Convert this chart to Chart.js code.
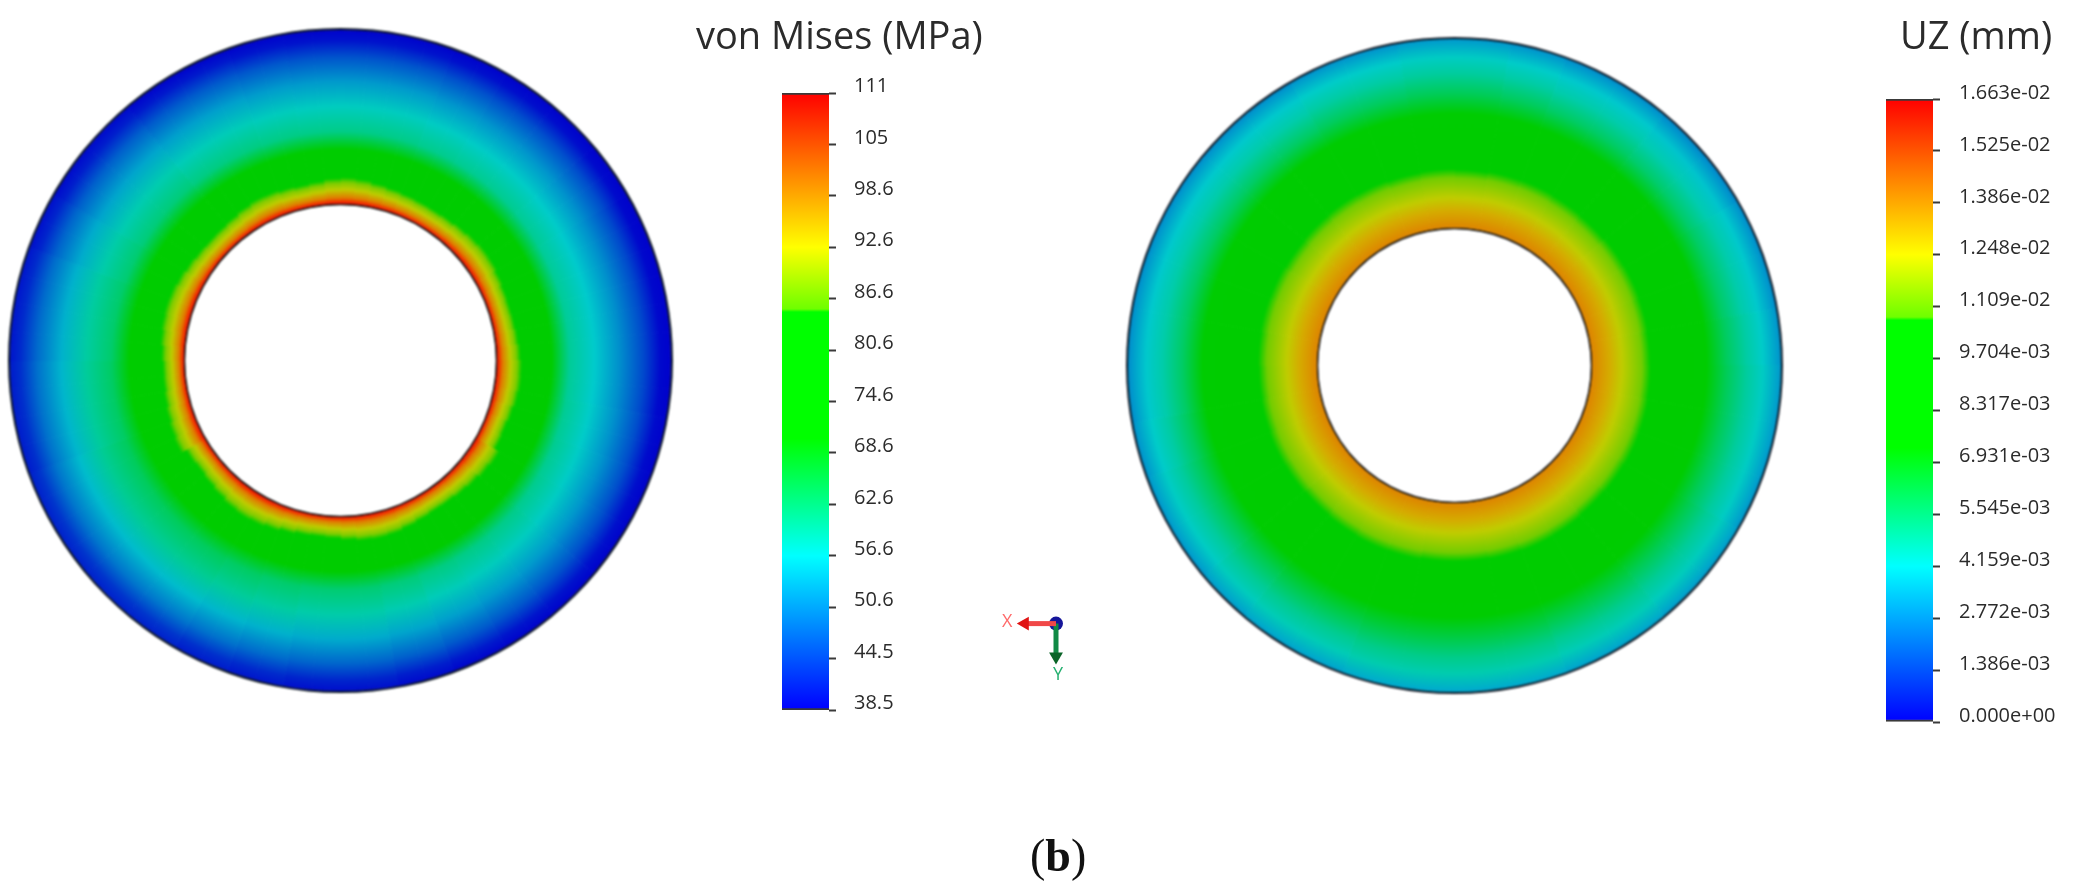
<!DOCTYPE html>
<html>
<head>
<meta charset="utf-8">
<title>von Mises / UZ</title>
<script src="https://cdn.jsdelivr.net/npm/chart.js@4"></script>
<style>
  html, body { margin: 0; background: #fff; width: 2083px; height: 891px; overflow: hidden; }
  canvas { position: absolute; }
  .disc { filter: blur(0.9px); }
  .bar { filter: blur(0.5px); }
  .txt { position: absolute; white-space: nowrap; color: #2b2b2b; font-family: "Open Sans", sans-serif; }
  .titulo { font-size: 38px; line-height: 40px; filter: blur(0.4px); }
</style>
</head>
<body>
<canvas id="discoVM" class="disc" style="left:8px;top:28px"></canvas>
<canvas id="barraVM" class="bar" style="left:782px;top:63px"></canvas>
<canvas id="discoUZ" class="disc" style="left:1126px;top:37px"></canvas>
<canvas id="barraUZ" class="bar" style="left:1886px;top:68px"></canvas>
<canvas id="triada" style="left:1000px;top:602px"></canvas>

<div class="txt titulo" style="left:696px;top:14px">von Mises (MPa)</div>
<div class="txt titulo" style="left:1900px;top:14px">UZ (mm)</div>
<div class="txt" style="left:1002px;top:608px;font-size:18px;line-height:24px;color:#ff6a6a">X</div>
<div class="txt" style="left:1053px;top:661px;font-size:18px;line-height:24px;color:#25b070">Y</div>
<div class="txt" style="left:1030px;top:826px;font-size:46px;line-height:60px;color:#111;font-family:'Liberation Serif',serif">(<b>b</b>)</div>

<script>
// colour legend: position along the bar (0 bottom, 1 top) and its colour
const mapaPos = [0, 0.25, 0.44, 0.645, 0.65, 0.75, 1];
const mapaColor = [[0, 0, 255], [0, 255, 255], [0, 255, 0], [0, 255, 0], [110, 255, 0], [255, 255, 0], [255, 0, 0]];

// left plot: von Mises
const vmEtiquetas = ["111", "105", "98.6", "92.6", "86.6", "80.6", "74.6", "68.6", "62.6", "56.6", "50.6", "44.5", "38.5"];
const vmMin = 38.5;
const vmMax = 111;
// stations across the ring, as a share of the outer radius, and the stress read there
const vmEstacion = [0.467, 0.476, 0.490, 0.515, 0.535, 0.551, 0.636, 0.690, 0.765, 0.840, 0.913, 0.964, 1];
const vmValor = [111, 108.5, 101, 92, 88, 84.5, 70.4, 61.7, 58, 52.7, 46.5, 40.7, 38.5];
const vmZonaCaliente = 5; // last station of the hot band
// outer edge of the hot band every 5 degrees, clockwise from the top
const vmBorde = [0.552, 0.549, 0.544, 0.540, 0.537, 0.535, 0.534, 0.536, 0.540, 0.544, 0.547, 0.546,
  0.541, 0.537, 0.535, 0.536, 0.539, 0.543, 0.547, 0.548, 0.545, 0.540, 0.536, 0.538,
  0.553, 0.549, 0.543, 0.539, 0.535, 0.534, 0.537, 0.541, 0.546, 0.548, 0.546, 0.541,
  0.536, 0.534, 0.536, 0.541, 0.547, 0.552, 0.554, 0.551, 0.545, 0.540, 0.536, 0.539,
  0.555, 0.551, 0.546, 0.541, 0.537, 0.536, 0.540, 0.545, 0.549, 0.551, 0.550, 0.546,
  0.541, 0.537, 0.535, 0.536, 0.539, 0.544, 0.548, 0.547, 0.543, 0.540, 0.543, 0.549];
// drift of the outer band every 10 degrees (MPa)
const vmDeriva = [-0.5, -0.5, -0.8, -1, -1, -1.2, -1.5, -1.5, -1.5, -1.5, -1.2, -1,
  -0.8, -0.5, -0.3, 0, 0.5, 1, 1, 1.5, 2, 2.5, 2.5, 2.5,
  2.5, 2, 2, 1.5, 1.5, 1, 0.5, 0.5, 0, 0, -0.3, -0.5];

// right plot: UZ
const uzEtiquetas = ["1.663e-02", "1.525e-02", "1.386e-02", "1.248e-02", "1.109e-02", "9.704e-03", "8.317e-03", "6.931e-03", "5.545e-03", "4.159e-03", "2.772e-03", "1.386e-03", "0.000e+00"];
const uzMin = 0;
const uzMax = 0.01663;
const uzEstacion = [0.415, 0.4725, 0.512, 0.573, 0.600, 0.768, 0.829, 0.890, 0.939, 0.990, 1];
const uzValor = [0.01424, 0.0133, 0.0123, 0.0112, 0.0107, 0.0073, 0.00577, 0.00469, 0.00410, 0.0030, 0.0026];
const uzZonaCaliente = 4;
const uzBorde = [0.597, 0.600, 0.601, 0.599, 0.597, 0.600, 0.601, 0.599, 0.597, 0.598, 0.600, 0.601,
  0.599, 0.597, 0.600, 0.601, 0.599, 0.597, 0.597, 0.600, 0.601, 0.599, 0.597, 0.600,
  0.601, 0.599, 0.597, 0.599, 0.601, 0.600, 0.597, 0.599, 0.601, 0.600, 0.597, 0.599];
const uzDeriva = [0.0002, 0.0001, 0, 0, -0.0001, -0.0001, 0, 0, 0.0001, 0.0002, 0.0002, 0.0002,
  0.0003, 0.0003, 0.0004, 0.0004, 0.0005, 0.0005, 0.0005, 0.0005, 0.0004, 0.0004, 0.0003, 0.0002,
  0.0002, 0.0001, 0, 0, 0, 0, 0, 0, 0, 0.0001, 0.0001, 0.0002];

// axis triad, in px around the origin
const triadaXx = [0, -39];
const triadaXy = [0, 0];
const triadaYx = [0, 0];
const triadaYy = [0, -41];

function colorMapa(t) {
  t = Math.min(1, Math.max(0, t));
  let i = 0;
  while (i < mapaPos.length - 2 && t > mapaPos[i + 1]) i++;
  const f = (t - mapaPos[i]) / (mapaPos[i + 1] - mapaPos[i]);
  return mapaColor[i].map((c, k) => c + (mapaColor[i + 1][k] - c) * f);
}

// the model is lit, so it is a bit darker than the legend
function colorModelo(t) {
  const luz = t < 0.75 ? 0.8 : 0.8 + (t - 0.75) * 0.7;
  const c = colorMapa(t).map(v => Math.round(v * luz));
  return `rgb(${c[0]}, ${c[1]}, ${c[2]})`;
}

function dibujarDisco(id, radio, radioInt, d) {
  const canvas = document.getElementById(id);
  canvas.width = canvas.height = radio * 2 + 1;
  const corte = radioInt / radio;
  const sectores = d.borde.map(() => 1);

  const relleno = ctx => {
    const area = ctx.chart.chartArea;
    if (!area) return "#00cc00";
    const cx = (area.left + area.right) / 2;
    const cy = (area.top + area.bottom) / 2;
    const g = ctx.chart.ctx.createRadialGradient(cx, cy, radioInt, cx, cy, radio);
    const base = d.estacion[d.caliente];
    const deriva = d.deriva[Math.floor(ctx.dataIndex * d.deriva.length / d.borde.length)];
    d.estacion.forEach((p, i) => {
      let pos = p;
      let val = d.valor[i];
      if (i <= d.caliente) {
        pos = corte + (p - corte) * (d.borde[ctx.dataIndex] - corte) / (base - corte);
      } else if (i > d.caliente + 1) {
        val += deriva;
      }
      const s = Math.min(1, Math.max(0, (pos - corte) / (1 - corte)));
      g.addColorStop(s, colorModelo((val - d.min) / (d.max - d.min)));
    });
    return g;
  };

  new Chart(canvas, {
    type: "doughnut",
    data: {
      datasets: [
        { data: [1], backgroundColor: "#0c1622", borderWidth: 0, weight: 2 },
        { data: sectores, backgroundColor: relleno, borderColor: relleno, borderWidth: 1, weight: radio - radioInt - 4 },
        { data: [1], backgroundColor: "#0c0c0c", borderWidth: 0, weight: 2 }
      ]
    },
    options: {
      responsive: false,
      animation: false,
      events: [],
      cutout: (corte * 100) + "%",
      plugins: { legend: { display: false }, tooltip: { enabled: false } }
    }
  });
}

function dibujarBarra(id, ancho, alto, min, max, etiquetas, relleno, desfase) {
  const canvas = document.getElementById(id);
  canvas.width = ancho;
  canvas.height = alto;
  new Chart(canvas, {
    type: "bar",
    data: {
      labels: [""],
      datasets: [{
        data: [[min, max]],
        barPercentage: 1,
        categoryPercentage: 1,
        borderColor: "#3a3a3a",
        borderWidth: { top: 2, bottom: 2, left: 0, right: 0 },
        borderSkipped: false,
        backgroundColor: ctx => {
          const y = ctx.chart.scales.y;
          if (!y || !ctx.chart.chartArea) return "#00ff00";
          const g = ctx.chart.ctx.createLinearGradient(0, y.getPixelForValue(min), 0, y.getPixelForValue(max));
          mapaPos.forEach((p, i) => g.addColorStop(p, `rgb(${mapaColor[i].join(",")})`));
          return g;
        }
      }]
    },
    options: {
      responsive: false,
      animation: false,
      events: [],
      layout: { padding: { top: 30, bottom: 4 } },
      plugins: { legend: { display: false }, tooltip: { enabled: false } },
      scales: {
        x: { display: false },
        y: {
          position: "right",
          min: min,
          max: max,
          afterFit: s => { s.width = ancho - 47; },
          border: { display: false },
          grid: { drawOnChartArea: false, tickLength: 7, tickWidth: 2, tickColor: "#3a3a3a" },
          ticks: {
            count: etiquetas.length,
            maxTicksLimit: 20,
            autoSkip: false,
            padding: relleno,
            labelOffset: desfase,
            color: "#2b2b2b",
            font: { family: "Open Sans", size: 20 },
            callback: (v, i) => etiquetas[etiquetas.length - 1 - i]
          }
        }
      }
    }
  });
}

dibujarDisco("discoVM", 332, 155, { estacion: vmEstacion, valor: vmValor, caliente: vmZonaCaliente, borde: vmBorde, deriva: vmDeriva, min: vmMin, max: vmMax });
dibujarDisco("discoUZ", 328, 136, { estacion: uzEstacion, valor: uzValor, caliente: uzZonaCaliente, borde: uzBorde, deriva: uzDeriva, min: uzMin, max: uzMax });
dibujarBarra("barraVM", 180, 677, vmMin, vmMax, vmEtiquetas, 18, -6.5);
dibujarBarra("barraUZ", 196, 685, uzMin, uzMax, uzEtiquetas, 19, -6);

// axis triad
const triada = document.getElementById("triada");
triada.width = 80;
triada.height = 80;
new Chart(triada, {
  type: "scatter",
  data: {
    datasets: [
      { data: triadaXx.map((x, i) => ({ x: x, y: triadaXy[i] })), showLine: true, borderColor: "#f04848", borderWidth: 5,
        pointRadius: [0, 8], pointStyle: "triangle", pointRotation: -90, pointBackgroundColor: "#e01414", pointBorderWidth: 0 },
      { data: triadaYx.map((x, i) => ({ x: x, y: triadaYy[i] })), showLine: true, borderColor: "#108a45", borderWidth: 5,
        pointRadius: [0, 8], pointStyle: "triangle", pointRotation: 180, pointBackgroundColor: "#0a6428", pointBorderWidth: 0 },
      { data: [{ x: 0, y: 0 }], pointRadius: 7, pointBackgroundColor: "#15159a", pointBorderWidth: 0 }
    ]
  },
  options: {
    responsive: false,
    animation: false,
    events: [],
    plugins: { legend: { display: false }, tooltip: { enabled: false } },
    scales: {
      x: { display: false, min: -60, max: 20 },
      y: { display: false, min: -63, max: 17 }
    }
  }
});
</script>
</body>
</html>
